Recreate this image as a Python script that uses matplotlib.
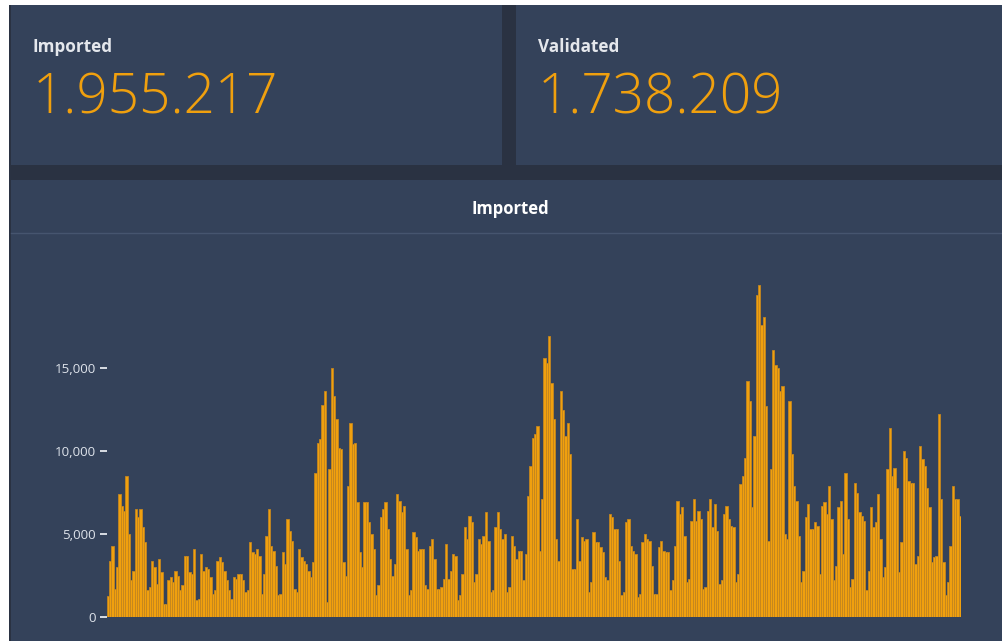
import numpy as np
import matplotlib
matplotlib.use('Agg')
from matplotlib import pyplot as plt
from matplotlib.patches import Rectangle
from matplotlib.lines import Line2D
from matplotlib.ticker import FuncFormatter

W, H = 1003, 641

kpi_labels = ['Imported', 'Validated']
kpi_values = ['1.955.217', '1.738.209']
chart_title = 'Imported'
y_ticks = [0, 5000, 10000, 15000]

# daily imported records (thousands) left to right
imported_k = [
    1.25, 3.4, 4.3, 1.7, 3.0, 7.4, 6.7, 6.4, 8.5, 5.0,
    2.2, 2.8, 6.5, 6.0, 6.5, 5.4, 4.5, 1.6, 1.8, 3.4,
    3.0, 2.0, 3.5, 2.7, 0.8, 0.8, 2.2, 2.4, 2.1, 2.8,
    2.5, 1.6, 1.9, 3.7, 3.7, 2.7, 2.6, 4.1, 1.0, 1.1,
    3.8, 2.8, 3.0, 2.9, 2.4, 1.4, 1.6, 3.4, 3.6, 3.3,
    2.8, 2.2, 1.6, 1.1, 2.4, 2.3, 2.6, 2.6, 2.2, 1.5,
    1.6, 4.5, 3.9, 3.8, 4.1, 3.7, 1.4, 2.6, 4.9, 6.5,
    4.3, 4.0, 3.1, 1.3, 1.4, 3.9, 3.2, 5.9, 5.2, 4.6,
    1.7, 1.5, 4.1, 3.6, 3.4, 3.2, 2.8, 2.4, 3.3, 8.7,
    10.5, 10.7, 12.8, 13.6, 0.9, 8.9, 15.0, 13.3, 11.9, 10.2,
    10.1, 3.3, 2.5, 7.9, 11.7, 10.4, 10.5, 6.9, 3.9, 3.0,
    6.9, 6.9, 5.7, 5.0, 4.1, 1.3, 1.9, 6.0, 6.5, 6.9,
    5.3, 3.5, 2.5,
    3.2, 7.4, 7.0, 6.3, 6.7, 4.1, 1.3, 1.6, 5.1, 4.8,
    4.0, 4.1, 4.1, 1.9, 1.7, 4.3, 4.7, 3.5, 1.7, 1.7,
    1.8, 2.3, 4.4, 2.3, 2.8, 3.8, 3.7, 1.0, 1.3, 2.6,
    5.4, 4.7, 6.1, 5.7, 2.1, 2.6, 4.7, 4.4, 4.9, 6.3,
    4.6, 1.5, 1.6, 5.4, 6.3, 5.3, 4.7, 5.0, 1.5, 1.8,
    4.9, 4.3, 3.5, 4.0, 4.0, 2.2, 3.8, 7.3, 9.1, 10.8,
    11.0, 11.5, 4.0, 7.1, 15.6, 15.3, 16.9, 14.1, 11.9, 4.7,
    3.4, 13.6, 12.5, 10.9, 11.7, 9.8, 2.9, 2.9, 5.9, 3.4,
    4.8, 4.6, 4.7, 1.5, 2.1, 5.1, 4.5, 4.5, 4.2, 3.9,
    2.4, 2.2, 6.2, 6.0, 5.3, 5.3, 3.4, 1.3, 1.5, 5.7,
    5.9, 4.3, 4.0, 3.8, 1.2, 1.4, 4.5, 5.0, 4.7, 4.6,
    3.1, 1.4, 1.4, 4.2, 4.6, 4.0, 3.9, 3.9, 1.6, 2.2,
    4.3, 7.0,
    6.2, 6.6, 4.9, 2.1, 2.3, 5.8, 7.1, 5.8, 6.4, 5.9,
    1.7, 1.8, 6.4, 7.1, 5.4, 6.8, 5.2, 2.0, 2.2, 6.2,
    6.7, 5.9, 5.5, 5.4, 2.1, 2.6, 8.0, 8.5, 9.6, 14.2,
    13.0, 6.6, 10.9, 19.4, 20.0, 17.6, 18.1, 12.7, 4.6, 8.9,
    16.1, 15.2, 15.0, 13.6, 13.9, 5.0, 4.7, 13.0, 9.8, 7.9,
    7.0, 4.9, 2.1, 2.8, 6.0, 6.8, 5.3, 5.3, 5.7, 5.5,
    2.6, 6.7, 6.9, 6.2, 7.9, 5.9, 2.2, 3.1, 6.6, 7.0,
    3.8, 8.7, 5.9, 1.8, 2.3, 8.1, 7.5, 6.3, 6.1, 5.8,
    1.6, 2.8, 6.6, 5.4, 5.7, 7.4, 4.7, 2.4, 3.0, 8.9,
    11.4, 8.5, 9.0, 7.8, 2.7, 4.5, 10.0, 9.6, 8.2, 8.1,
    8.1, 3.2, 3.7, 10.3, 9.5, 9.1, 7.8, 6.6, 3.3, 3.6,
    3.7, 12.2, 7.1, 3.3, 1.3, 2.1, 4.3, 7.9, 7.1, 7.1,
    6.1,
]

PANEL = '#34425a'
GAP = '#2a3242'
ORANGE = '#f0a00e'
FONT = ['Open Sans', 'DejaVu Sans']

plt.rcParams['font.family'] = FONT

fig = plt.figure(figsize=(W / 100, H / 100), dpi=100, facecolor=GAP)


def box(x0, y0, x1, y1, color):
    # rectangle given in pixel coords (origin top-left)
    fig.patches.append(Rectangle((x0 / W, 1 - y1 / H), (x1 - x0) / W, (y1 - y0) / H,
                                 transform=fig.transFigure, facecolor=color,
                                 edgecolor='none', zorder=-2))


# page frame
box(0, 0, W, 5, 'white')
box(0, 0, 9, H, 'white')

# kpi cards
cards = [(11, 502), (516, W)]
for (x0, x1), label, value in zip(cards, kpi_labels, kpi_values):
    box(x0, 5, x1, 165, PANEL)
    fig.text((x0 + 22) / W, 1 - 52 / H, label, color='#e4e7ec', fontsize=12.3,
             fontweight='bold', va='baseline', ha='left')
    fig.text((x0 + 22) / W, 1 - 113 / H, value, color=ORANGE, fontsize=39.5,
             fontweight='light', va='baseline', ha='left')

# chart panel
box(11, 180, W, H, PANEL)
fig.text(510 / W, 1 - 214 / H, chart_title, color='white', fontsize=12,
         fontweight='bold', va='baseline', ha='center')
fig.lines.append(Line2D([11 / W, 1], [1 - 233 / H, 1 - 233 / H], transform=fig.transFigure,
                        color='#46556f', linewidth=1, zorder=-1))

# bar chart
ax_left, ax_right, ax_bottom, ax_top = 106.7, 961, 617, 260
ax = fig.add_axes([ax_left / W, 1 - ax_bottom / H, (ax_right - ax_left) / W,
                   (ax_bottom - ax_top) / H])
ax.set_zorder(2)
ax.set_facecolor('none')
values = np.array(imported_k) * 1000
days = np.arange(len(values))
ax.bar(days, values, width=1.0, color=ORANGE, edgecolor='#c4861f', linewidth=0.6)
ax.set_xlim(-0.5, len(values) - 0.5)
ax.set_ylim(0, (ax_bottom - ax_top) / 16.6 * 1000)
ax.set_yticks(y_ticks)
ax.yaxis.set_major_formatter(FuncFormatter(lambda v, p: f'{int(v):,}'))
ax.tick_params(axis='y', length=5, width=1.3, color='#e6e9ee', labelcolor='#dde2ea',
               labelsize=9.6, pad=3)
ax.tick_params(axis='x', bottom=False, labelbottom=False)
for s in ax.spines.values():
    s.set_visible(False)

fig.savefig('out.png', dpi=100, facecolor=fig.get_facecolor())
